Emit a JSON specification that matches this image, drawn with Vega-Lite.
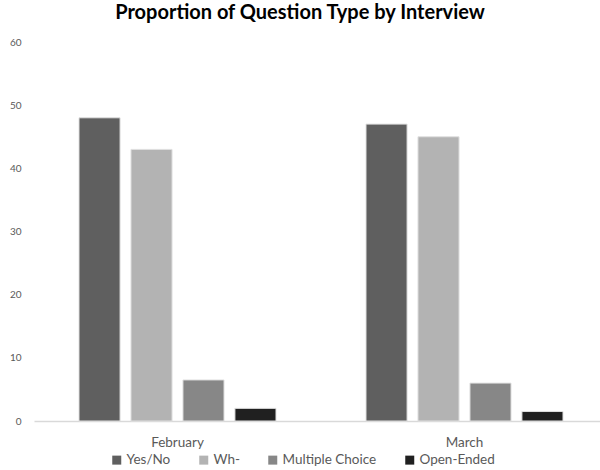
{
  "$schema": "https://vega.github.io/schema/vega-lite/v6.json",
  "autosize": "none",
  "width": 574,
  "height": 379,
  "padding": {"left": 34, "top": 42, "right": 0, "bottom": 49},
  "background": "white",
  "title": {
    "text": "Proportion of Question Type by Interview",
    "font": "Lato",
    "fontSize": 20,
    "fontWeight": "bold",
    "color": "#000000",
    "anchor": "middle",
    "dx": -21,
    "offset": 14
  },
  "data": {
    "values": [
      {"month": "February", "type": "Yes/No", "value": 48},
      {"month": "February", "type": "Wh-", "value": 43},
      {"month": "February", "type": "Multiple Choice", "value": 6.5},
      {"month": "February", "type": "Open-Ended", "value": 2},
      {"month": "March", "type": "Yes/No", "value": 47},
      {"month": "March", "type": "Wh-", "value": 45},
      {"month": "March", "type": "Multiple Choice", "value": 6},
      {"month": "March", "type": "Open-Ended", "value": 1.5}
    ]
  },
  "mark": {"type": "bar", "stroke": "#e0e0e0", "strokeWidth": 1},
  "encoding": {
    "x": {
      "field": "month",
      "type": "nominal",
      "sort": ["February", "March"],
      "scale": {"paddingInner": 0.3136, "paddingOuter": 0.1568},
      "axis": {
        "title": null,
        "labelAngle": 0,
        "labelFont": "Lato",
        "labelFontSize": 13.5,
        "labelColor": "#595959",
        "labelPadding": 14,
        "ticks": false,
        "domainColor": "#d9d9d9",
        "domainWidth": 1.5
      }
    },
    "xOffset": {
      "field": "type",
      "type": "nominal",
      "sort": ["Yes/No", "Wh-", "Multiple Choice", "Open-Ended"],
      "scale": {"paddingInner": 0.21, "paddingOuter": 0}
    },
    "y": {
      "field": "value",
      "type": "quantitative",
      "scale": {"domain": [0, 60]},
      "axis": {
        "title": null,
        "values": [0, 10, 20, 30, 40, 50, 60],
        "grid": false,
        "domain": false,
        "ticks": false,
        "labelFont": "Lato",
        "labelFontSize": 10,
        "labelColor": "#595959",
        "labelPadding": 13
      }
    },
    "color": {
      "field": "type",
      "type": "nominal",
      "sort": ["Yes/No", "Wh-", "Multiple Choice", "Open-Ended"],
      "scale": {
        "domain": ["Yes/No", "Wh-", "Multiple Choice", "Open-Ended"],
        "range": ["#5f5f5f", "#b3b3b3", "#878787", "#202020"]
      },
      "legend": {
        "title": null,
        "orient": "none",
        "direction": "horizontal",
        "legendX": 76,
        "legendY": 411,
        "symbolType": "square",
        "symbolSize": 81,
        "symbolStrokeWidth": 0,
        "labelFont": "Lato",
        "labelFontSize": 13.5,
        "labelColor": "#595959",
        "labelOffset": 3,
        "columnPadding": 26
      }
    }
  },
  "config": {"view": {"stroke": null}}
}
